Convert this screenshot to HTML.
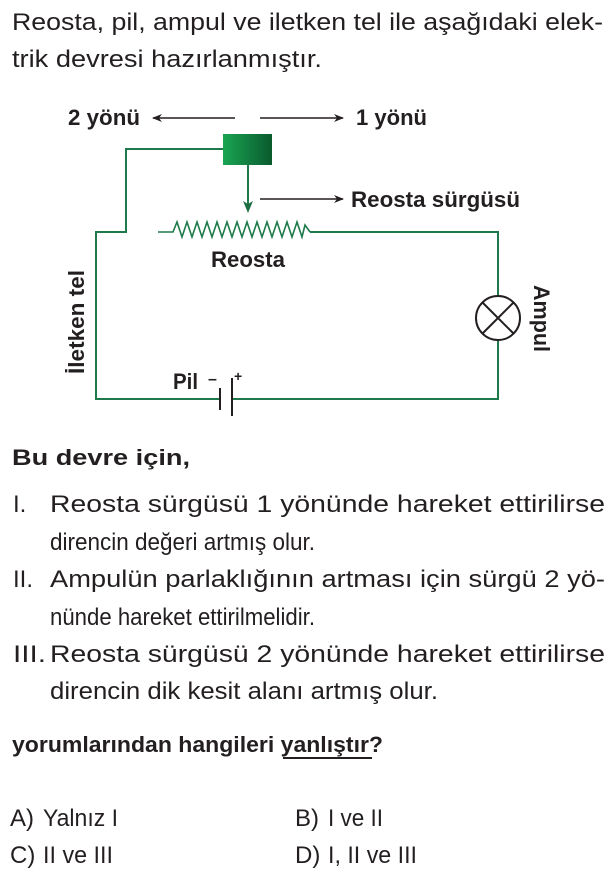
<!DOCTYPE html>
<html><head><meta charset="utf-8"><style>
html,body{margin:0;padding:0;background:#fff;}
svg{display:block;}
text{font-family:"Liberation Sans",Arial,sans-serif;fill:#231f20;}
.b{font-weight:bold;}
</style></head><body>
<svg width="615" height="887" viewBox="0 0 615 887" xmlns="http://www.w3.org/2000/svg">
<defs>
<linearGradient id="g" x1="0" x2="1" y1="0" y2="0"><stop offset="0" stop-color="#1aa552"/><stop offset="1" stop-color="#0a5a2e"/></linearGradient>
<marker id="ah" markerWidth="10" markerHeight="8" refX="9" refY="4" orient="auto" markerUnits="userSpaceOnUse"><path d="M0,0 L10,4 L0,8 L3,4 z" fill="#231f20"/></marker>
</defs>
<text x="12" y="30" font-size="24" textLength="591" lengthAdjust="spacingAndGlyphs">Reosta, pil, ampul ve iletken tel ile aşağıdaki elek-</text>
<text x="12" y="67" font-size="24" textLength="310" lengthAdjust="spacingAndGlyphs">trik devresi hazırlanmıştır.</text>

<!-- diagram -->
<text x="68" y="125" font-size="22" class="b" textLength="72" lengthAdjust="spacingAndGlyphs">2 yönü</text>
<line x1="235" y1="118" x2="153" y2="118" stroke="#231f20" stroke-width="1.6" marker-end="url(#ah)"/>
<line x1="260" y1="118" x2="343" y2="118" stroke="#231f20" stroke-width="1.6" marker-end="url(#ah)"/>
<text x="356" y="125" font-size="22" class="b" textLength="71" lengthAdjust="spacingAndGlyphs">1 yönü</text>

<g stroke="#1e7a4a" stroke-width="2" fill="none">
<polyline points="223,149 126,149 126,232 96,232 96,399 220,399"/>
<polyline points="232,399 498,399 498,340"/>
<polyline points="498,296 498,232 310,232"/>
<polyline points="158,232 173,232 177,222 182,237 187,222 192,237 197,222 202,237 207,222 212,237 217,222 222,237 227,222 232,237 237,222 242,237 247,222 252,237 257,222 262,237 267,222 272,237 277,222 282,237 287,222 292,237 297,222 302,237 305,225 310,232" stroke-width="1.6"/>
<line x1="248" y1="165" x2="248" y2="205"/>
</g>
<path d="M243,201 L248,213 L253,201 L248,204 z" fill="#1e6e45"/>
<rect x="223" y="134" width="49" height="31" fill="url(#g)"/>

<line x1="260" y1="199" x2="343" y2="199" stroke="#231f20" stroke-width="1.6" marker-end="url(#ah)"/>
<text x="351" y="207" font-size="22" class="b" textLength="169" lengthAdjust="spacingAndGlyphs">Reosta sürgüsü</text>
<text x="211" y="267" font-size="22" class="b" textLength="74" lengthAdjust="spacingAndGlyphs">Reosta</text>

<!-- lamp -->
<circle cx="498" cy="318" r="22" fill="#fff" stroke="#231f20" stroke-width="2"/>
<line x1="482.5" y1="302.5" x2="513.5" y2="333.5" stroke="#231f20" stroke-width="2"/>
<line x1="513.5" y1="302.5" x2="482.5" y2="333.5" stroke="#231f20" stroke-width="2"/>
<text transform="translate(534,285) rotate(90)" font-size="22" class="b" textLength="67" lengthAdjust="spacingAndGlyphs">Ampul</text>
<text transform="translate(84,374) rotate(-90)" font-size="22" class="b" textLength="104" lengthAdjust="spacingAndGlyphs">İletken tel</text>

<!-- battery -->
<line x1="220" y1="388" x2="220" y2="410" stroke="#231f20" stroke-width="2"/>
<line x1="232" y1="378" x2="232" y2="416" stroke="#231f20" stroke-width="2"/>
<text x="173" y="389" font-size="22" class="b" textLength="25" lengthAdjust="spacingAndGlyphs">Pil</text>
<text x="208" y="384" font-size="16" class="b">–</text>
<text x="234" y="381" font-size="14" class="b">+</text>

<!-- questions -->
<text x="12" y="465" font-size="22" class="b" textLength="178" lengthAdjust="spacingAndGlyphs">Bu devre için,</text>
<text x="13" y="512" font-size="24">I.</text>
<text x="50" y="512" font-size="24" textLength="555" lengthAdjust="spacingAndGlyphs">Reosta sürgüsü 1 yönünde hareket ettirilirse</text>
<text x="50" y="550" font-size="24" textLength="265" lengthAdjust="spacingAndGlyphs">direncin değeri artmış olur.</text>
<text x="13" y="587" font-size="24">II.</text>
<text x="50" y="587" font-size="24" textLength="555" lengthAdjust="spacingAndGlyphs">Ampulün parlaklığının artması için sürgü 2 yö-</text>
<text x="50" y="625" font-size="24" textLength="265" lengthAdjust="spacingAndGlyphs">nünde hareket ettirilmelidir.</text>
<text x="13" y="662" font-size="24" textLength="33" lengthAdjust="spacingAndGlyphs">III.</text>
<text x="50" y="662" font-size="24" textLength="555" lengthAdjust="spacingAndGlyphs">Reosta sürgüsü 2 yönünde hareket ettirilirse</text>
<text x="50" y="699" font-size="24" textLength="388" lengthAdjust="spacingAndGlyphs">direncin dik kesit alanı artmış olur.</text>

<text x="12" y="752" font-size="22" class="b" textLength="371" lengthAdjust="spacingAndGlyphs">yorumlarından hangileri yanlıştır?</text>
<line x1="283" y1="758" x2="372" y2="758" stroke="#231f20" stroke-width="2"/>

<text x="10" y="826" font-size="24">A)</text>
<text x="43" y="826" font-size="24" textLength="75" lengthAdjust="spacingAndGlyphs">Yalnız I</text>
<text x="295" y="826" font-size="24">B)</text>
<text x="328" y="826" font-size="24" textLength="55" lengthAdjust="spacingAndGlyphs">I ve II</text>
<text x="10" y="863" font-size="24">C)</text>
<text x="43" y="863" font-size="24" textLength="70" lengthAdjust="spacingAndGlyphs">II ve III</text>
<text x="295" y="863" font-size="24">D)</text>
<text x="328" y="863" font-size="24" textLength="89" lengthAdjust="spacingAndGlyphs">I, II ve III</text>
</svg>
</body></html>
